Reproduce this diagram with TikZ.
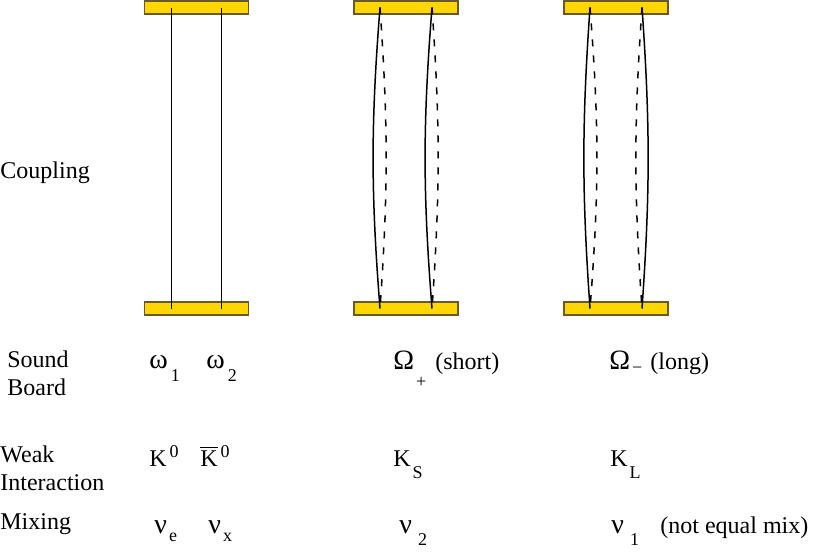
\documentclass[tikz,border=0pt]{standalone}
\usepackage{fontspec}
\setmainfont{Liberation Serif}

\definecolor{boardgold}{RGB}{255,214,0}
\definecolor{boardedge}{RGB}{100,90,45}

\newcommand{\subsize}{\fontsize{9}{10}\selectfont}
\newcommand{\greek}[1]{{\fontsize{14}{15}\selectfont #1}}
\newcommand{\lowidx}[3][1pt]{\kern#1\raisebox{-#2}{\subsize #3}}
\newcommand{\highidx}[2]{\kern1.5pt\raisebox{#1}{\subsize #2}}

\begin{document}
\begin{tikzpicture}[x=0.5pt, y=-0.5pt,
        board/.style={draw=boardedge, fill=boardgold, line width=0.6pt,
            minimum width=52pt, minimum height=6.5pt, inner sep=0pt},
        wire/.style={line width=0.75pt},
        wave/.style={line width=0.75pt, dash pattern=on 3.5pt off 4.5pt},
        txt/.style={anchor=base west, inner sep=0pt,
            font=\fontsize{12}{14}\selectfont}]
    \useasboundingbox (0,0) rectangle (817,552);

    % sound boards, top and bottom of each pair of strings
    \foreach \x[count=\i] in {196.5, 406, 616} {
        \node[board] (top\i) at (\x, 7.5) {};
        \node[board] (bot\i) at (\x, 308.5) {};
    }
    \foreach \i/\d in {1/12.5pt, 2/13pt, 3/13pt} {
        \coordinate (a\i) at ([xshift=-\d]top\i.center);
        \coordinate (b\i) at ([xshift=\d]top\i.center);
        \coordinate (c\i) at ([xshift=-\d]bot\i.center);
        \coordinate (d\i) at ([xshift=\d]bot\i.center);
    }

    % uncoupled
    \draw[wire] (a1) -- (c1);
    \draw[wire] (b1) -- (d1);

    % in phase
    \draw[wire] (a2) to[bend right=4.5] (c2);
    \draw[wave] (a2) to[bend left=4] (c2);
    \draw[wire] (b2) to[bend right=4.5] (d2);
    \draw[wave] (b2) to[bend left=4] (d2);

    % out of phase
    \draw[wire] (a3) to[bend right=4] (c3);
    \draw[wave] (a3) to[bend left=4.5] (c3);
    \draw[wire] (b3) to[bend left=4] (d3);
    \draw[wave] (b3) to[bend right=4] (d3);

    % row labels
    \node[txt] (coupling) at (0, 178) {Coupling};
    \node[txt] (sound) at (7, 367) {Sound};
    \node[txt] (board) at (7, 395) {Board};
    \node[txt] (weak) at (0, 462) {Weak};
    \node[txt] (interaction) at (0, 490) {Interaction};
    \node[txt] (mixing) at (0, 529) {Mixing};

    % sound board
    \node[txt] (omega1) at (149, 368) {\greek{ω}\lowidx[1.5pt]{6.5pt}{1}};
    \node[txt] (omega2) at (206, 368) {\greek{ω}\lowidx[1.5pt]{6.5pt}{2}};
    \node[txt] (omegaplus) at (393, 369) {\greek{Ω}\lowidx{9pt}{+}};
    \node[txt] (short) at (435, 369) {(short)};
    \node[txt] (omegaminus) at (609, 369) {\greek{Ω}\lowidx{2pt}{−}};
    \node[txt] (long) at (650, 369) {(long)};

    % weak interaction
    \node[txt] (kzero) at (149, 466) {K\highidx{4.5pt}{0}};
    \node[txt] (kbar) at (200, 466) {$\overline{\mbox{K}}$\highidx{4.5pt}{0}};
    \node[txt] (kshort) at (393, 466) {K\lowidx{6pt}{S}};
    \node[txt] (klong) at (610, 466) {K\lowidx{6pt}{L}};

    % mixing
    \node[txt] (nue) at (154, 533) {\greek{ν}\lowidx{4pt}{e}};
    \node[txt] (nux) at (208, 533) {\greek{ν}\lowidx{4pt}{x}};
    \node[txt] (nutwo) at (399, 533) {\greek{ν}\lowidx[3pt]{6pt}{2}};
    \node[txt] (nuone) at (611, 533) {\greek{ν}\lowidx[3pt]{6pt}{1}};
    \node[txt] (notequal) at (660, 533) {(not equal mix)};
\end{tikzpicture}
\end{document}
